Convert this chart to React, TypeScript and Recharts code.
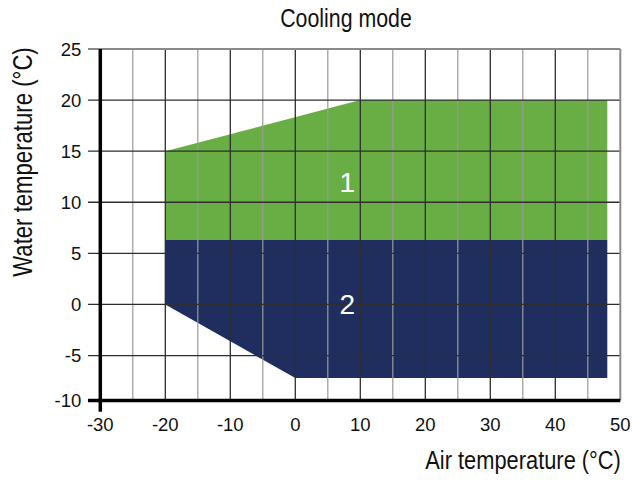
import React from "react";
import { ComposedChart, Area, XAxis, YAxis, ReferenceLine, ReferenceDot } from "recharts";

// operating envelope, air temperature (°C) on x
const airTemp = [-20, 0, 10, 48];
// water temperature ranges [low, high] per air temp, null where the edge just runs through
const mode1Range: ([number, number] | null)[] = [[6.3, 15], null, [6.3, 20], [6.3, 20]];
const mode2Range: ([number, number] | null)[] = [[0, 6.3], [-7.2, 6.3], [-7.2, 6.3], [-7.2, 6.3]];

const xTicks = [-30, -20, -10, 0, 10, 20, 30, 40, 50];
const yTicks = [-10, -5, 0, 5, 10, 15, 20, 25];
const xMajorGrid = [-20, -10, 0, 10, 20, 30, 40];
const xMinorGrid = [-25, -15, -5, 5, 15, 25, 35, 45];
const yGrid = [-5, 0, 5, 10, 15, 20];

const regionLabels = [
  { x: 8, y: 12, text: "1" },
  { x: 8, y: 0, text: "2" },
];

// the bottom axis in the original sits a little above -10
const Y_MIN = -9.4;
const X_MIN = -30;
const X_MAX = 50;
const Y_MAX = 25;
const LEFT_EXT = -31.9;
const BOTTOM_EXT = -10.5;

const GREEN = "#69ae45";
const NAVY = "#1f2e5e";
const SANS = "'Liberation Sans', Arial, sans-serif";

const data = airTemp.map((x, i) => ({ x, m1: mode1Range[i], m2: mode2Range[i] }));

export default function App() {
  const tickStyle = { fontSize: 18.5, fill: "#111", fontFamily: SANS };

  return (
    <div style={{ position: "absolute", left: 0, top: 0, width: 633, height: 480, background: "#fff", fontFamily: SANS }}>
      <div
        style={{
          position: "absolute", left: 346, top: 5, whiteSpace: "nowrap",
          transform: "translateX(-50%) scaleX(0.82)",
          fontSize: 26, lineHeight: "26px", color: "#111",
        }}
      >
        Cooling mode
      </div>
      <ComposedChart
        width={633}
        height={480}
        data={data}
        margin={{ top: 49, right: 12.7, bottom: 49.5, left: 40 }}
      >
        <XAxis
          type="number"
          dataKey="x"
          domain={[X_MIN, X_MAX]}
          ticks={xTicks}
          axisLine={false}
          tickLine={false}
          tickSize={0}
          tickMargin={17.5}
          height={30}
          tick={tickStyle}
          allowDataOverflow
        />
        <YAxis
          type="number"
          domain={[Y_MIN, Y_MAX]}
          ticks={yTicks.map((t) => (t === -10 ? Y_MIN : t))}
          tickFormatter={(v: number) => (v === Y_MIN ? "-10" : String(v))}
          axisLine={false}
          tickLine={false}
          tickSize={0}
          tickMargin={19}
          width={60.3}
          tick={tickStyle}
          allowDataOverflow
        />
        <Area
          type="linear"
          dataKey="m1"
          stroke="none"
          fill={GREEN}
          fillOpacity={1}
          connectNulls
          dot={false}
          activeDot={false}
          isAnimationActive={false}
        />
        <Area
          type="linear"
          dataKey="m2"
          stroke="none"
          fill={NAVY}
          fillOpacity={1}
          connectNulls
          dot={false}
          activeDot={false}
          isAnimationActive={false}
        />
        {xMinorGrid.map((v) => (
          <ReferenceLine
            key={`xm${v}`}
            segment={[{ x: v, y: Y_MIN }, { x: v, y: Y_MAX }]}
            stroke="#9a9a9a"
            strokeWidth={1.2}
            ifOverflow="visible"
          />
        ))}
        {xMajorGrid.map((v) => (
          <ReferenceLine
            key={`xM${v}`}
            segment={[{ x: v, y: Y_MIN }, { x: v, y: Y_MAX }]}
            stroke="#2e2e2e"
            strokeWidth={1.3}
            ifOverflow="visible"
          />
        ))}
        {yGrid.map((v) => (
          <ReferenceLine
            key={`y${v}`}
            segment={[{ x: LEFT_EXT, y: v }, { x: X_MAX, y: v }]}
            stroke="#2e2e2e"
            strokeWidth={1.3}
            ifOverflow="visible"
          />
        ))}
        <ReferenceLine
          segment={[{ x: LEFT_EXT, y: Y_MAX }, { x: X_MAX, y: Y_MAX }]}
          stroke="#8a8a8a"
          strokeWidth={2}
          ifOverflow="visible"
        />
        <ReferenceLine
          segment={[{ x: X_MAX, y: Y_MIN }, { x: X_MAX, y: Y_MAX }]}
          stroke="#8a8a8a"
          strokeWidth={2}
          ifOverflow="visible"
        />
        <ReferenceLine
          segment={[{ x: LEFT_EXT, y: Y_MIN }, { x: X_MAX, y: Y_MIN }]}
          stroke="#000"
          strokeWidth={3.5}
          ifOverflow="visible"
        />
        <ReferenceLine
          segment={[{ x: X_MIN, y: BOTTOM_EXT }, { x: X_MIN, y: Y_MAX }]}
          stroke="#000"
          strokeWidth={3.5}
          ifOverflow="visible"
        />
        {regionLabels.map((l) => (
          <ReferenceDot
            key={l.text}
            x={l.x}
            y={l.y}
            r={0}
            fill="none"
            stroke="none"
            ifOverflow="visible"
            label={{ value: l.text, position: "center", fill: "#fff", fontSize: 28, fontFamily: SANS }}
          />
        ))}
      </ComposedChart>
      <div
        style={{
          position: "absolute", right: 12, top: 446.7, whiteSpace: "nowrap",
          transform: "scaleX(0.84)", transformOrigin: "right center",
          fontSize: 26, lineHeight: "26px", color: "#111",
        }}
      >
        Air temperature (°C)
      </div>
      <div
        style={{
          position: "absolute", left: 23, top: 162, whiteSpace: "nowrap",
          transform: "translate(-50%, -50%) rotate(-90deg) scaleX(0.82)",
          fontSize: 27, lineHeight: "27px", color: "#111",
        }}
      >
        Water temperature (°C)
      </div>
    </div>
  );
}
